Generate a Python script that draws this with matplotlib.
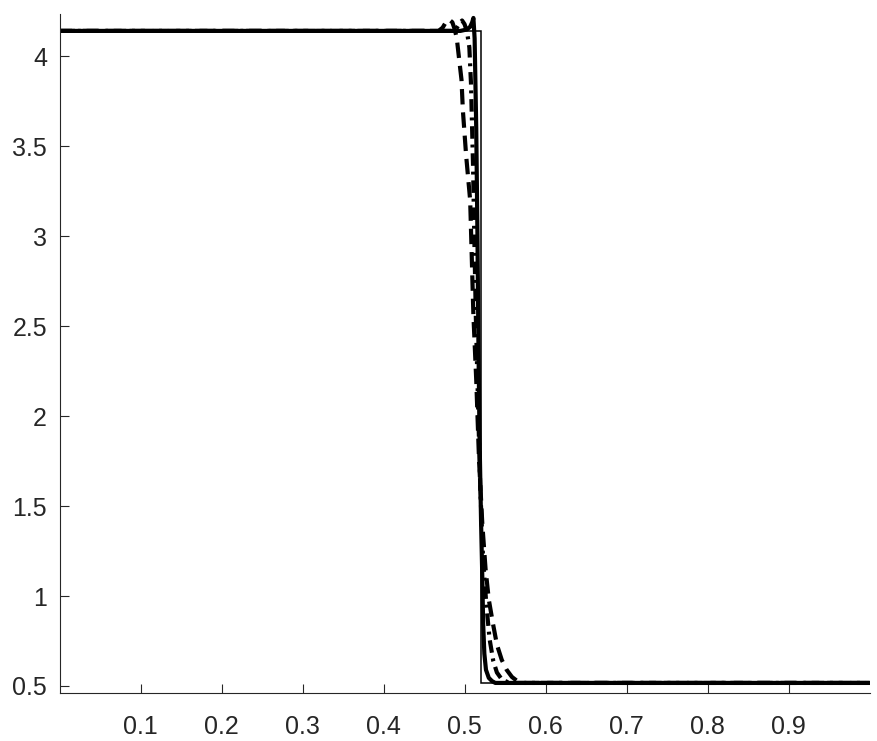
import matplotlib
matplotlib.use("Agg")
import matplotlib.pyplot as plt

# Exact solution (thin solid)
exact_x = [0.0, 0.520, 0.520, 1.0]
exact_y = [4.142, 4.142, 0.517, 0.517]

# Numerical solution 1 (thick solid)
sol_x = [0.0, 0.495, 0.503, 0.507, 0.5095, 0.511, 0.5125, 0.5145, 0.516, 0.5172,
         0.5185, 0.5205, 0.522, 0.523, 0.5245, 0.5265, 0.530, 0.534, 0.538, 1.0]
sol_y = [4.142, 4.142, 4.15, 4.165, 4.19, 4.214, 4.10, 3.6, 3.0, 2.4,
         1.9, 1.4, 1.1, 0.85, 0.68, 0.59, 0.545, 0.527, 0.517, 0.517]

# Numerical solution 2 (thick dash-dot)
dd_x = [0.0, 0.485, 0.490, 0.494, 0.497, 0.500, 0.503, 0.506, 0.508, 0.5105,
        0.5125, 0.514, 0.5165, 0.5195, 0.523, 0.527, 0.531, 0.5355, 0.540, 0.5465,
        0.556, 1.0]
dd_y = [4.142, 4.142, 4.155, 4.185, 4.20, 4.18, 4.14, 4.05, 3.85, 3.4,
        2.9, 2.55, 2.1, 1.6, 1.2, 0.95, 0.76, 0.64, 0.575, 0.534,
        0.517, 0.517]

# Numerical solution 3 (thick dashed)
da_x = [0.0, 0.468, 0.473, 0.477, 0.481, 0.485, 0.488, 0.4905, 0.493, 0.4963,
        0.498, 0.502, 0.507, 0.511, 0.5145, 0.518, 0.522, 0.526, 0.530, 0.535,
        0.540, 0.546, 0.552, 0.5586, 0.565, 0.574, 1.0]
da_y = [4.142, 4.142, 4.16, 4.19, 4.205, 4.19, 4.15, 4.10, 4.0, 3.87,
        3.70, 3.45, 3.20, 2.56, 2.2, 1.75, 1.4, 1.15, 0.98, 0.85,
        0.73, 0.645, 0.59, 0.55, 0.528, 0.517, 0.517]

x_ticks = [0.1, 0.2, 0.3, 0.4, 0.5, 0.6, 0.7, 0.8, 0.9]
x_tick_labels = ["0.1", "0.2", "0.3", "0.4", "0.5", "0.6", "0.7", "0.8", "0.9"]
y_ticks = [0.5, 1, 1.5, 2, 2.5, 3, 3.5, 4]
y_tick_labels = ["0.5", "1", "1.5", "2", "2.5", "3", "3.5", "4"]

plt.rcParams['font.family'] = ['Liberation Sans', 'DejaVu Sans']

fig = plt.figure(figsize=(8.77, 7.41), dpi=100)
ax = fig.add_axes([59.5/877, 1-693/741, 810/877, (693-14)/741])

ax.plot(exact_x, exact_y, color='black', lw=1.1, solid_joinstyle='miter')
ax.plot(da_x, da_y, color='black', lw=3, linestyle=(0, (3.7, 1.9)))
ax.plot(dd_x, dd_y, color='black', lw=3, linestyle=(0, (3.0, 1.4, 0.7, 1.4)))
ax.plot(sol_x, sol_y, color='black', lw=3)

ax.set_xlim(0, 1)
ax.set_ylim(0.461, 4.236)
ax.set_xticks(x_ticks)
ax.set_xticklabels(x_tick_labels)
ax.set_yticks(y_ticks)
ax.set_yticklabels(y_tick_labels)

for s in ['top', 'right']:
    ax.spines[s].set_visible(False)
for s in ['left', 'bottom']:
    ax.spines[s].set_color('#262626')
    ax.spines[s].set_linewidth(0.8)

ax.tick_params(axis='both', direction='in', length=6.5, width=0.8, color='#262626',
               labelcolor='#262626', labelsize=18)
ax.tick_params(axis='x', pad=16)
ax.tick_params(axis='y', pad=9)

fig.savefig('out.png', dpi=100)
